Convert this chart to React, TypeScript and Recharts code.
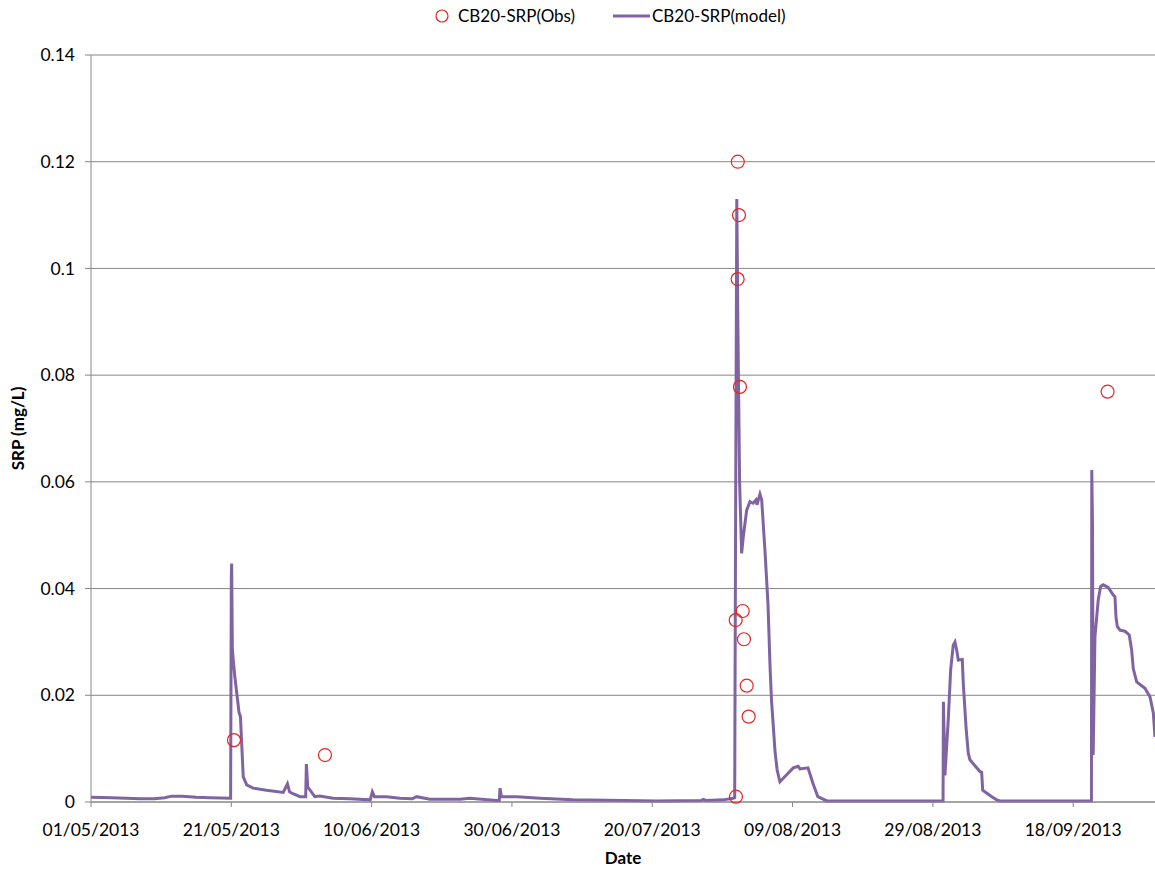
import { ComposedChart, Line, Scatter, XAxis, YAxis, CartesianGrid, Legend } from "recharts";

// x values are days since 01/05/2013
const dateTicks = [0, 20, 40, 60, 80, 100, 120, 140];
const dateLabels = [
  "01/05/2013",
  "21/05/2013",
  "10/06/2013",
  "30/06/2013",
  "20/07/2013",
  "09/08/2013",
  "29/08/2013",
  "18/09/2013",
];
const srpTicks = [0, 0.02, 0.04, 0.06, 0.08, 0.1, 0.12, 0.14];

const modelDays = [
  0, 3, 5, 7, 9, 10.5, 11.5, 13, 15, 17, 19.9, 20.0, 20.05, 20.15, 20.5, 21.1, 21.3, 21.7, 22.2, 23.1,
  25.0, 27.4, 28.0, 28.3, 28.7, 29.8, 30.6, 30.7, 30.9, 31.9, 32.6, 34.5, 36.9, 39.8, 40.1, 40.4, 42.1,
  44.0, 45.8, 46.4, 48.3, 52.6, 54.0, 57.8, 58.2, 58.3, 58.5, 60.7, 64.0, 68.7, 75.9, 80.6, 87.0, 87.3,
  87.6, 90.1, 91.55, 91.75, 91.9, 92.05, 92.2, 92.45, 92.74, 93.0, 93.46, 93.93, 94.36, 94.78, 94.93,
  95.35, 95.6, 96.07, 96.5, 96.8, 97.0, 97.5, 97.8, 98.2, 99.16, 100.1, 100.8, 101.05, 102.2, 102.9,
  103.6, 104.9, 110, 115, 121.45, 121.5, 121.72, 122.19, 122.53, 122.9, 123.15, 123.39, 123.62, 124.19,
  124.33, 124.72, 125.04, 125.28, 126.71, 126.95, 127.1, 127.75, 128.4, 129.1, 129.56, 135, 142.6,
  142.65, 142.75, 142.85, 143.1, 143.57, 143.91, 144.28, 144.99, 145.71, 145.95, 146.1, 146.28, 146.67,
  147.38, 147.99, 148.33, 148.56, 149.05, 150.23, 150.95, 151.42, 151.66,
];
const modelSrp = [
  0.0009, 0.0008, 0.0007, 0.0006, 0.0006, 0.0008, 0.0011, 0.0011, 0.0009, 0.0008, 0.0007, 0.042, 0.0447,
  0.0285, 0.0235, 0.0168, 0.016, 0.0047, 0.0032, 0.0026, 0.0022, 0.0018, 0.0034, 0.0019, 0.0016, 0.001,
  0.001, 0.0071, 0.0028, 0.001, 0.0011, 0.0007, 0.0006, 0.0004, 0.0019, 0.001, 0.001, 0.0007, 0.0006,
  0.001, 0.0005, 0.0005, 0.0007, 0.0003, 0.0003, 0.0026, 0.001, 0.001, 0.0007, 0.0004, 0.0003, 0.0002,
  0.0003, 0.0005, 0.0003, 0.0004, 0.0007, 0.0008, 0.06, 0.113, 0.09, 0.06, 0.0466, 0.05, 0.0547, 0.0563,
  0.056, 0.0566, 0.0557, 0.0577, 0.0566, 0.047, 0.037, 0.025, 0.019, 0.0095, 0.006, 0.0038, 0.0051,
  0.0064, 0.0067, 0.0062, 0.0064, 0.0035, 0.001, 0.0002, 0.0002, 0.0002, 0.0002, 0.0188, 0.005, 0.0154,
  0.0247, 0.0294, 0.03, 0.0285, 0.0266, 0.0267, 0.0223, 0.0141, 0.0092, 0.0079, 0.0057, 0.0056, 0.0022,
  0.0016, 0.001, 0.0004, 0.0002, 0.0002, 0.0002, 0.0622, 0.052, 0.0088, 0.031, 0.0379, 0.0404, 0.0407,
  0.0402, 0.0388, 0.0385, 0.0347, 0.0329, 0.0322, 0.032, 0.0313, 0.0285, 0.025, 0.0225, 0.0213, 0.0197,
  0.0167, 0.0122,
];

const obsDays = [20.38, 33.35, 91.93, 91.89, 92.19, 92.36, 92.17, 92.5, 92.89, 93.07, 93.46, 93.74, 144.9];
const obsSrp = [0.0116, 0.0088, 0.001, 0.0341, 0.12, 0.11, 0.098, 0.0778, 0.0358, 0.0305, 0.0218, 0.016, 0.0769];

const modelData = modelDays.map((day, i) => ({ day, srp: modelSrp[i] }));
const obsData = obsDays.map((day, i) => ({ day, srp: obsSrp[i] }));

const GRID = "#868686";
const PURPLE = "#8064A2";
const RED = "#E8231F";

const ObsCircle = (props: any) => (
  <circle cx={props.cx} cy={props.cy} r={6.5} fill="none" stroke={RED} strokeWidth={1.2} />
);

function LegendRow() {
  return (
    <div style={{ position: "relative", height: 55, fontSize: 17, color: "#000" }}>
      <svg width={16} height={16} style={{ position: "absolute", left: 434, top: 8 }}>
        <circle cx={8} cy={8} r={6} fill="none" stroke={RED} strokeWidth={1.2} />
      </svg>
      <span style={{ position: "absolute", left: 458, top: 8, lineHeight: "16px", whiteSpace: "nowrap" }}>
        CB20-SRP(Obs)
      </span>
      <svg width={40} height={16} style={{ position: "absolute", left: 613, top: 8 }}>
        <line x1={0} y1={8} x2={37} y2={8} stroke={PURPLE} strokeWidth={3} />
      </svg>
      <span style={{ position: "absolute", left: 652, top: 8, lineHeight: "16px", whiteSpace: "nowrap" }}>
        CB20-SRP(model)
      </span>
    </div>
  );
}

export default function App() {
  return (
    <div style={{ position: "absolute", left: 0, top: 0, width: 1155, height: 869, fontFamily: "Lato, sans-serif" }}>
      <ComposedChart width={1155} height={869} margin={{ top: 0, right: 0, bottom: 5, left: 0 }}>
        <CartesianGrid vertical={false} stroke={GRID} />
        <XAxis
          type="number"
          dataKey="day"
          domain={[0, 151.66]}
          allowDataOverflow
          ticks={dateTicks}
          tickFormatter={(v: number) => dateLabels[dateTicks.indexOf(v)] ?? ""}
          height={62}
          tickSize={5}
          tickMargin={17}
          stroke={GRID}
          tick={{ fill: "#000", fontSize: 17.5 }}
          label={{ value: "Date", position: "insideBottom", offset: 0, style: { fontWeight: "bold", fontSize: 17, fill: "#000" } }}
        />
        <YAxis
          type="number"
          dataKey="srp"
          domain={[0, 0.14]}
          ticks={srpTicks}
          width={91}
          tickSize={6}
          tickMargin={10}
          stroke={GRID}
          tick={{ fill: "#000", fontSize: 17.5 }}
          label={{
            value: "SRP (mg/L)",
            angle: -90,
            position: "insideLeft",
            offset: 18,
            style: { textAnchor: "middle", fontWeight: "bold", fontSize: 17, fill: "#000" },
          }}
        />
        <Legend verticalAlign="top" content={() => <LegendRow />} />
        <Line
          data={modelData}
          dataKey="srp"
          type="linear"
          stroke={PURPLE}
          strokeWidth={3}
          dot={false}
          isAnimationActive={false}
        />
        <Scatter data={obsData} dataKey="srp" shape={ObsCircle} isAnimationActive={false} />
      </ComposedChart>
    </div>
  );
}
